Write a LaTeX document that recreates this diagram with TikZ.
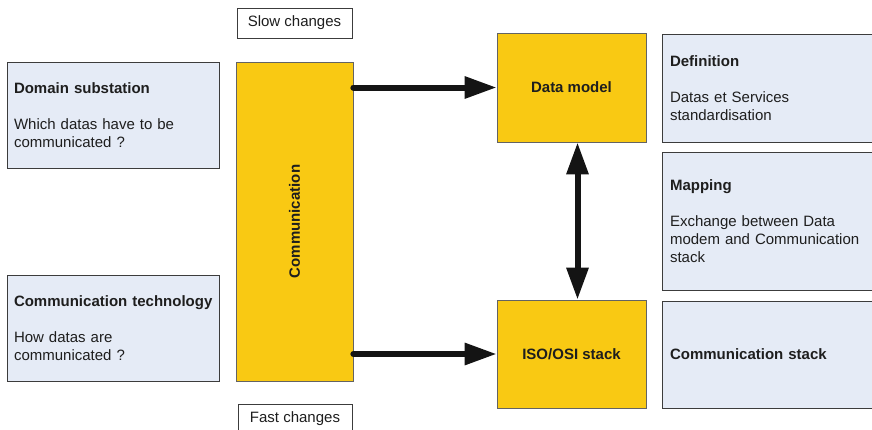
\documentclass[tikz,border=0pt]{standalone}
\usepackage{fontspec}
\setmainfont{Liberation Sans}
\usetikzlibrary{arrows.meta}
\definecolor{boxyellow}{HTML}{F9C913}
\definecolor{boxblue}{HTML}{E5EBF6}
\definecolor{edgegray}{HTML}{3C3C3C}
\definecolor{inkgray}{HTML}{1E1E1E}
\begin{document}
\begin{tikzpicture}[x=1pt,y=-1pt,
  every node/.style={font=\fontsize{15}{18}\selectfont, text=inkgray},
  infobox/.style={draw=edgegray, line width=0.9pt, fill=boxblue, rectangle,
    inner xsep=7pt, inner ysep=0pt, align=left},
  corebox/.style={draw=edgegray!80, line width=0.7pt, fill=boxyellow, rectangle,
    font=\fontsize{15}{18}\selectfont\bfseries},
  tagbox/.style={draw=edgegray, line width=0.9pt, fill=white, rectangle},
  flow/.style={line width=6pt, color=black!92, line cap=round,
    -{Triangle[length=32pt,width=21pt]}},
  both/.style={line width=6pt, color=black!92,
    {Triangle[length=32pt,width=21pt]}-{Triangle[length=32pt,width=21pt]}}
]
\useasboundingbox (0,0) rectangle (872,429);
\clip (0,0) rectangle (872,429);

% time-scale labels
\node[tagbox, minimum width=115pt, minimum height=30pt] (slow) at (294.5,23) {Slow changes};
\node[tagbox, minimum width=114pt, minimum height=30pt] (fast) at (295,419) {Fast changes};

% left column
\node[infobox, minimum width=212pt, minimum height=106pt, text width=198pt] (dom) at (113,115)
  {\textbf{Domain substation}\\[18pt]Which datas have to be\\communicated ?};
\node[infobox, minimum width=212pt, minimum height=106pt, text width=198pt] (tech) at (113,328)
  {\mbox{\textbf{Communication technology}}\\[18pt]How datas are\\communicated ?};

% central column
\node[corebox, minimum width=117pt, minimum height=319pt] (comm) at (294.5,221.5) {};
\node[rotate=90, font=\fontsize{15}{18}\selectfont\bfseries] (commlabel) at (comm.center) {Communication};

% layers
\node[corebox, minimum width=149pt, minimum height=109pt] (dm) at (571.5,87.5) {Data model};
\node[corebox, minimum width=149pt, minimum height=108pt] (iso) at (571.5,354) {ISO/OSI stack};

% right column
\node[infobox, minimum width=220pt, minimum height=108pt, text width=204pt, inner xsep=8pt] (def) at (772,88)
  {\textbf{Definition}\\[18pt]Datas et Services\\standardisation};
\node[infobox, minimum width=220pt, minimum height=138pt, text width=204pt, inner xsep=8pt] (map) at (772,221)
  {\textbf{Mapping}\\[18pt]Exchange between Data\\modem and Communication\\stack};
\node[infobox, minimum width=220pt, minimum height=107pt, text width=204pt, inner xsep=8pt] (stk) at (772,354.5)
  {\textbf{Communication stack}};

% connectors
\draw[flow] (comm.east |- dm.west) -- (dm.west);
\draw[flow] (comm.east |- iso.west) -- (iso.west);
\draw[both] ([xshift=6pt]dm.south) -- ([xshift=6pt]iso.north);
\end{tikzpicture}
\end{document}
